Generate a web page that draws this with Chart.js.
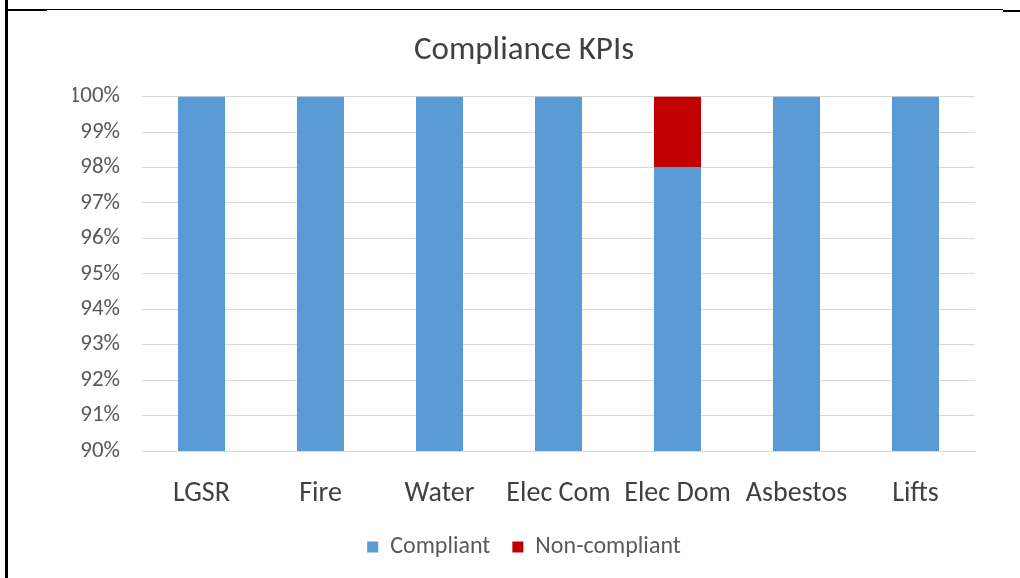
<!DOCTYPE html>
<html>
<head>
<meta charset="utf-8">
<script src="https://cdn.jsdelivr.net/npm/chart.js@4/dist/chart.umd.min.js"></script>
<style>
  html, body { margin: 0; padding: 0; background: #fff; }
  #wrap { position: relative; width: 1020px; height: 578px; overflow: hidden; }
  #graph { position: absolute; left: 0; top: 0; }
  .ln { position: absolute; background: #000; }
</style>
</head>
<body>
<div id="wrap">
  <canvas id="graph" width="1020" height="578"></canvas>
  <div class="ln" style="left:5px;top:0;width:3px;height:578px;"></div>
  <div class="ln" style="left:7px;top:9px;width:996px;height:1px;"></div>
  <div class="ln" style="left:7px;top:9px;width:40px;height:2px;"></div>
  <div class="ln" style="left:1003px;top:10px;width:17px;height:2px;"></div>
</div>
<script>
const categorias = ["LGSR", "Fire", "Water", "Elec Com", "Elec Dom", "Asbestos", "Lifts"];
const compliant = [100, 100, 100, 100, 98, 100, 100];
const nonCompliant = [0, 0, 0, 0, 2, 0, 0];
const yMin = 90;
const yMax = 100;

const fuente = "Carlito, Lato, sans-serif";

new Chart(document.getElementById("graph"), {
  type: 'bar',
  data: {
    labels: categorias,
    datasets: [
      {
        label: 'Compliant',
        data: compliant,
        backgroundColor: '#5B9BD5',
        barPercentage: 0.395,
        categoryPercentage: 1
      },
      {
        label: 'Non-compliant',
        data: nonCompliant,
        backgroundColor: '#C00000',
        barPercentage: 0.395,
        categoryPercentage: 1
      }
    ]
  },
  options: {
    responsive: false,
    animation: false,
    layout: { padding: { left: 73, right: 45, top: 0, bottom: 9 } },
    plugins: {
      title: {
        display: true,
        text: 'Compliance KPIs',
        color: '#404040',
        font: { family: fuente, size: 33, weight: 'normal' },
        padding: { top: 31, bottom: 26 }
      },
      legend: {
        position: 'bottom',
        labels: {
          color: '#595959',
          font: { family: fuente, size: 24 },
          boxWidth: 11,
          boxHeight: 11,
          padding: 22
        }
      },
      tooltip: { enabled: false }
    },
    scales: {
      x: {
        stacked: true,
        grid: { display: false },
        border: { color: '#d9d9d9' },
        ticks: {
          color: '#404040',
          font: { family: fuente, size: 28 },
          autoSkip: false,
          maxRotation: 0,
          padding: 18
        },
        afterFit: s => { s.height = 62; }
      },
      y: {
        stacked: true,
        min: yMin,
        max: yMax,
        grid: { color: '#d9d9d9', drawTicks: false },
        border: { display: false },
        ticks: {
          stepSize: 1,
          color: '#595959',
          font: { family: fuente, size: 23 },
          padding: 22,
          callback: v => v + '%'
        },
        afterFit: s => { s.width = 69; }
      }
    }
  }
});
</script>
</body>
</html>
